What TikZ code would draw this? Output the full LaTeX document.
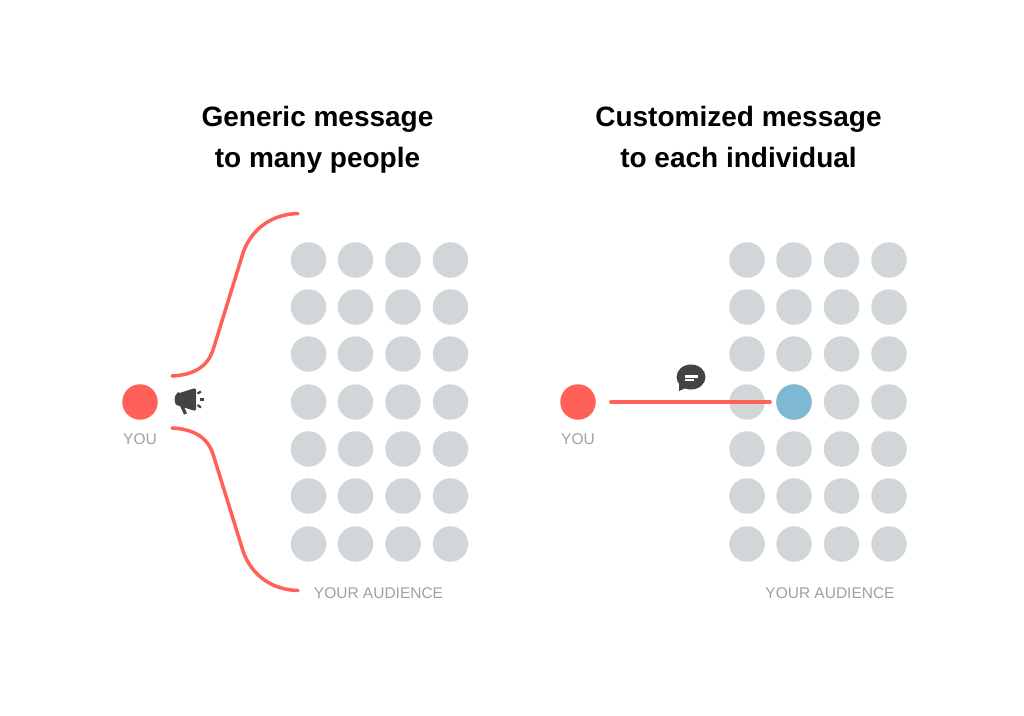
\documentclass[tikz,border=0pt]{standalone}
\usepackage{fontspec}
\setmainfont{Liberation Sans}
\definecolor{speaker}{HTML}{FF6159}
\definecolor{crowd}{HTML}{D1D6D8}
\definecolor{picked}{HTML}{7FB8D3}
\definecolor{icon}{HTML}{434343}
\definecolor{caption}{HTML}{A0A0A0}
\begin{document}
\begin{tikzpicture}[x=1pt,y=-1pt,
   person/.style={circle,inner sep=0pt,minimum size=35.5pt,fill=crowd},
   title/.style={align=center,font=\fontsize{28}{41}\selectfont\bfseries},
   tag/.style={text=caption,font=\fontsize{15.5}{18}\selectfont},
   beam/.style={draw=speaker,line width=3.5pt,line cap=round}]
\useasboundingbox (0,0) rectangle (1024,715);

\node[title] (left title) at (317.5,140) {Generic message\\to many people};
\node[title] (right title) at (738.5,137) {Customized message\\to each individual};

% the two audiences
\foreach \col/\x in {1/308.5,2/355.5,3/403,4/450.5} {
  \foreach \row/\y in {1/260,2/307,3/354,4/402,5/449,6/496,7/544} {
    \node[person] (a\col\row) at (\x,\y) {};
    \node[person] (b\col\row) at (\x+438.5,\y) {};
  }
}
\node[person,fill=picked] (target) at (b24) {};

\node[person,fill=speaker] (you left) at (140,402) {};
\node[person,fill=speaker] (you right) at (578,402) {};
\node[tag,below=0pt] (you left tag) at (140,430) {YOU};
\node[tag,below=0pt] (you right tag) at (578,430) {YOU};
\node[tag] (left crowd tag) at (378.5,593) {YOUR AUDIENCE};
\node[tag] (right crowd tag) at (830,593) {YOUR AUDIENCE};

% brace around the crowd
\coordinate (upper start) at (172,376);
\coordinate (upper end) at (298,213.5);
\coordinate (lower start) at (172,428);
\coordinate (lower end) at (298,590.5);
\draw[beam] (upper start) .. controls (192,375) and (207,368) .. (213,350)
   -- (243,253) .. controls (252,227) and (274,214) .. (upper end);
\draw[beam] (lower start) .. controls (192,429) and (207,436) .. (213,454)
   -- (243,551) .. controls (252,577) and (274,590) .. (lower end);

% single line to one person
\draw[beam,shorten <=15pt,shorten >=6pt] (you right) -- (target);

% megaphone
\fill[icon,rounded corners=1.5pt] (178,393.5) -- (192,389) -- (196,388) -- (196,411)
   -- (192,410) -- (178,405.5) .. controls (174,404) and (174,395) .. cycle;
\draw[icon,line width=3.2pt] (181.5,405) -- (185.5,414);
\draw[icon,line width=2.2pt] (197.5,393.5) -- (201,391.5);
\draw[icon,line width=2.2pt] (199.5,399.5) -- (204,399.5);
\draw[icon,line width=2.2pt] (197.5,405) -- (201,407.5);

% speech bubble
\fill[icon] (691,377) ellipse [x radius=14.5,y radius=12.5];
\fill[icon] (679,380) -- (679,391) -- (688,387) -- cycle;
\fill[white] (685,375) rectangle (697.5,377.5);
\fill[white] (685,379) rectangle (693.5,381);
\end{tikzpicture}
\end{document}
